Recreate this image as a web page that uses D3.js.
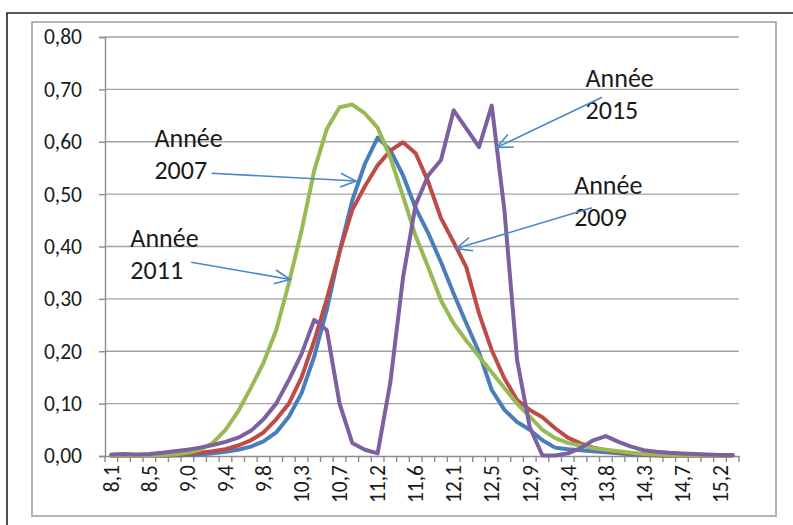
<!DOCTYPE html>
<html><head><meta charset="utf-8">
<script src="https://cdn.jsdelivr.net/npm/d3@7"></script>
<style>
html,body{margin:0;padding:0;background:#fff;}
svg{display:block;font-family:Carlito,Lato,"Open Sans",sans-serif;}
</style></head>
<body>
<svg id="chart" width="793" height="525"></svg>
<script>
const categories = ["8,1","8,2","8,4","8,5","8,7","8,8","9,0","9,1","9,2","9,4",
"9,5","9,7","9,8","10,0","10,1","10,3","10,4","10,6","10,7","10,9",
"11,0","11,2","11,3","11,5","11,6","11,8","11,9","12,1","12,2","12,4",
"12,5","12,7","12,8","12,9","13,1","13,2","13,4","13,5","13,7","13,8",
"14,0","14,1","14,3","14,4","14,6","14,7","14,9","15,0","15,2","15,3"];

const y2007 = [0.001,0.001,0.001,0.001,0.001,0.001,0.002,0.003,0.005,0.008,
0.012,0.018,0.028,0.045,0.075,0.12,0.19,0.28,0.39,0.488,
0.558,0.608,0.584,0.536,0.473,0.425,0.37,0.31,0.253,0.198,
0.126,0.088,0.065,0.05,0.03,0.016,0.013,0.011,0.009,0.007,
0.005,0.003,0.002,0.001,0.001,0.001,0.001,0.001,0.001,0.001];

const y2009 = [0.001,0.001,0.001,0.001,0.001,0.002,0.004,0.006,0.009,0.013,
0.02,0.03,0.045,0.07,0.1,0.15,0.22,0.30,0.39,0.47,
0.515,0.555,0.583,0.599,0.578,0.523,0.454,0.408,0.36,0.272,
0.202,0.148,0.107,0.088,0.074,0.053,0.035,0.024,0.016,0.011,
0.007,0.005,0.003,0.002,0.001,0.001,0.001,0.001,0.001,0.001];

const y2011 = [0.001,0.001,0.001,0.001,0.002,0.003,0.006,0.012,0.025,0.05,
0.085,0.13,0.178,0.24,0.33,0.43,0.545,0.625,0.666,0.671,
0.654,0.627,0.57,0.496,0.42,0.36,0.297,0.253,0.22,0.19,
0.16,0.13,0.10,0.075,0.05,0.034,0.025,0.02,0.015,0.012,
0.009,0.006,0.004,0.003,0.002,0.001,0.001,0.001,0.001,0.001];

const y2015 = [0.003,0.004,0.003,0.004,0.006,0.009,0.012,0.016,0.021,0.027,
0.035,0.048,0.07,0.1,0.145,0.195,0.26,0.24,0.10,0.025,
0.012,0.005,0.14,0.34,0.48,0.536,0.565,0.66,0.625,0.59,
0.669,0.469,0.183,0.055,0.001,0.001,0.005,0.015,0.03,0.038,
0.027,0.018,0.011,0.008,0.006,0.005,0.004,0.003,0.002,0.002];

const seriesNames = ["2007","2009","2011","2015"];
const seriesValues = [y2007, y2009, y2011, y2015];
const seriesColors = ["#4a7ebb","#be4b48","#98b954","#7d60a0"];
const yTicks = [0,0.1,0.2,0.3,0.4,0.5,0.6,0.7,0.8];

// annotations: text anchor (category index / value), arrow from/to in data space
const annotations = [
  {lines:["Année","2007"], tx:3.4, ty:0.59, ax1:7.9, ay1:0.54, ax2:19.3, ay2:0.525},
  {lines:["Année","2011"], tx:1.5, ty:0.40, ax1:6.3, ay1:0.37, ax2:14.1, ay2:0.337},
  {lines:["Année","2015"], tx:37.4, ty:0.705, ax1:38.7, ay1:0.685, ax2:30.4, ay2:0.589},
  {lines:["Année","2009"], tx:36.5, ty:0.50, ax1:37.9, ay1:0.474, ax2:27.2, ay2:0.396}
];

const svg = d3.select("#chart");
const W = 793, H = 525;
const plot = {left:105, right:739, top:37, bottom:456};

// outer frames
svg.append("path").attr("d", d3.line()([[7,H],[7,13],[W,13]]))
  .attr("fill","none").attr("stroke","#222").attr("stroke-width",1.6);
svg.append("rect").attr("x",32).attr("y",22).attr("width",744).attr("height",494)
  .attr("fill","none").attr("stroke","#9d9d9d").attr("stroke-width",1.5);

const x = d3.scaleBand().domain(categories).range([plot.left, plot.right]).paddingInner(0).paddingOuter(0);
const y = d3.scaleLinear().domain([0,0.8]).range([plot.bottom, plot.top]);
const cx = c => x(c) + x.bandwidth()/2;
const xi = i => plot.left + (i + 0.5) * x.bandwidth();

const fr = d3.formatLocale({decimal:",", thousands:" ", grouping:[3], currency:["","€"]});
const fmt = fr.format(".2f");

// gridlines
svg.append("g").selectAll("line").data(yTicks.slice(1)).join("line")
  .attr("x1",plot.left).attr("x2",plot.right)
  .attr("y1",d=>y(d)).attr("y2",d=>y(d))
  .attr("stroke","#a3a3a3").attr("stroke-width",1.4);

// y axis
const gy = svg.append("g").attr("transform",`translate(${plot.left},0)`)
  .call(d3.axisLeft(y).tickValues(yTicks).tickFormat(fmt).tickSize(6).tickPadding(17));
gy.select(".domain").attr("stroke","#8c8c8c").attr("stroke-width",1.4);
gy.selectAll(".tick line").attr("stroke","#8c8c8c").attr("stroke-width",1.4);
gy.selectAll("text").attr("font-size",21.5).attr("fill","#1a1a1a")
  .attr("font-family","Carlito,Lato,sans-serif");

// x axis
const gx = svg.append("g").attr("transform",`translate(0,${plot.bottom})`)
  .call(d3.axisBottom(x).tickSize(0).tickFormat((d,i)=> i%3===0 ? d : ""));
gx.select(".domain").attr("stroke","#8c8c8c").attr("stroke-width",1.4);
gx.selectAll("text")
  .attr("font-size",21.5).attr("fill","#1a1a1a")
  .attr("font-family","Carlito,Lato,sans-serif")
  .attr("text-anchor","end")
  .attr("transform","rotate(-90)")
  .attr("x",-9).attr("y",0).attr("dy","0.36em");
// boundary tick marks
const bounds = categories.map(c => x(c)).concat([x(categories[categories.length-1]) + x.bandwidth()]);
svg.append("g").selectAll("line").data(bounds).join("line")
  .attr("x1",d=>d).attr("x2",d=>d).attr("y1",plot.bottom).attr("y2",plot.bottom+6)
  .attr("stroke","#8c8c8c").attr("stroke-width",1.4);

// series lines
const line = d3.line().x((d,i)=>cx(categories[i])).y(d=>y(d));
seriesValues.forEach((vals,k)=>{
  svg.append("path").datum(vals)
    .attr("d",line)
    .attr("fill","none")
    .attr("stroke",seriesColors[k])
    .attr("stroke-width",4)
    .attr("stroke-linejoin","round")
    .attr("stroke-linecap","round");
});

// annotations
const arrowColor = "#4a86c8";
annotations.forEach(a=>{
  const t = svg.append("text").attr("font-size",26).attr("fill","#1a1a1a")
    .attr("font-family","Carlito,Lato,sans-serif");
  a.lines.forEach((s,j)=>{
    t.append("tspan").attr("x", xi(a.tx)).attr("y", y(a.ty) + j*32).text(s);
  });
  const x1 = xi(a.ax1), y1 = y(a.ay1), x2 = xi(a.ax2), y2 = y(a.ay2);
  svg.append("line").attr("x1",x1).attr("y1",y1).attr("x2",x2).attr("y2",y2)
    .attr("stroke",arrowColor).attr("stroke-width",1.6);
  const ang = Math.atan2(y2-y1, x2-x1), L = 17, spread = 0.42;
  const p1 = [x2 - L*Math.cos(ang-spread), y2 - L*Math.sin(ang-spread)];
  const p2 = [x2 - L*Math.cos(ang+spread), y2 - L*Math.sin(ang+spread)];
  svg.append("path").attr("d", d3.line()([p1,[x2,y2],p2]))
    .attr("fill","none").attr("stroke",arrowColor).attr("stroke-width",1.6);
});
</script>
</body></html>
